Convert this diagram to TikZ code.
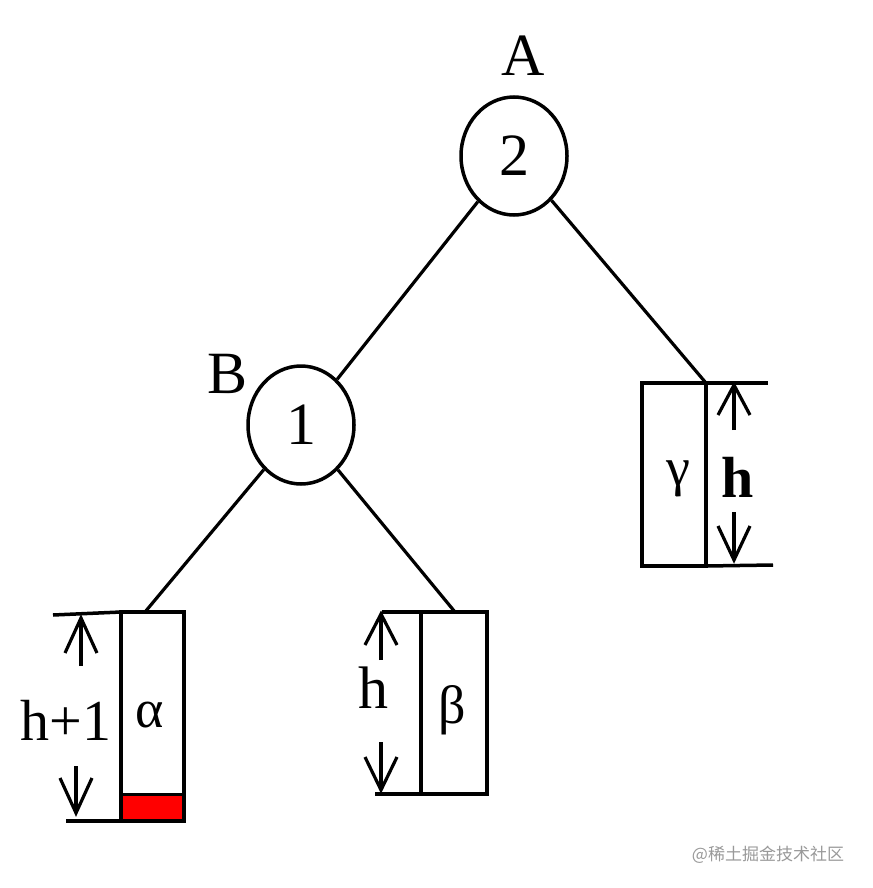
\documentclass[tikz,border=0pt]{standalone}
\usepackage{fontspec}
\setmainfont{Liberation Serif}
\newfontfamily\cjk{Noto Sans CJK SC}
\usetikzlibrary{shapes.geometric}
\tikzset{
  tnode/.style={draw, ellipse, line width=3.5pt, inner sep=0pt, minimum width=106pt, minimum height=118pt, font=\fontsize{60}{60}\selectfont},
  edge/.style={line width=3.2pt},
  subtree/.style={draw, line width=4pt, inner sep=0pt, outer sep=0pt},
  bigtxt/.style={anchor=base, inner sep=0pt, font=\fontsize{60}{60}\selectfont},
  greek/.style={anchor=base, inner sep=0pt, font=\fontsize{54}{54}\selectfont},
  arr/.style={line width=3.2pt},
  tick/.style={line width=3.5pt}
}
\begin{document}
\begin{tikzpicture}[x=1pt,y=-1pt]
\useasboundingbox[fill=white] (0,0) rectangle (872,888);
% tree nodes
\node[tnode] (A) at (514,156) {2};
\node[tnode] (B) at (301,425) {1};
\node[bigtxt] (lA) at (523,76) {A};
\node[bigtxt] (lB) at (228,393) {B};
% alpha subtree
\fill[red] (122,794) rectangle (184,821);
\node[subtree, minimum width=63pt, minimum height=209pt] (al) at (152.5,716.5) {};
\draw[line width=3pt] (122,794) -- (184,794);
\node[greek] (tal) at (150,727) {α};
% beta subtree
\node[subtree, minimum width=66pt, minimum height=182pt] (be) at (454,703) {};
\node[greek] (tbe) at (452,723) {β};
% gamma subtree
\node[subtree, minimum width=64pt, minimum height=183pt] (ga) at (674,474.5) {};
\node[greek] (tga) at (678,485) {γ};
% edges
\coordinate (alTop) at (145,612);
\coordinate (beTop) at (455,612);
\draw[edge] (A) -- (B);
\draw[edge] (A) -- (ga.north east);
\draw[edge] (B) -- (alTop);
\draw[edge] (B) -- (beTop);
% alpha height marker
\coordinate (a1) at (53,615);
\coordinate (a2) at (66,821);
\draw[tick] (a1) -- (al.north west);
\draw[tick] (a2) -- (al.south west);
\draw[arr] (81,666) -- (81,618);
\draw[arr] (65,653) -- (81,618) -- (97,653);
\draw[arr] (76,766) -- (76,813);
\draw[arr] (60,778) -- (76,813) -- (92,778);
\node[bigtxt, font=\fontsize{58}{58}\selectfont] (hal) at (66,740) {h+1};
% beta height marker
\coordinate (b1) at (382,612);
\coordinate (b2) at (375,794);
\draw[tick] (b1) -- (be.north west);
\draw[tick] (b2) -- (be.south west);
\draw[arr] (381,660) -- (381,614);
\draw[arr] (365,645) -- (381,614) -- (397,645);
\draw[arr] (381,742) -- (381,790);
\draw[arr] (365,757) -- (381,790) -- (397,757);
\node[bigtxt] (hbe) at (373,708) {h};
% gamma height marker
\coordinate (g1) at (768,383);
\coordinate (g2) at (773,565);
\draw[tick] (ga.north east) -- (g1);
\draw[tick] (ga.south east) -- (g2);
\draw[arr] (734,430) -- (734,385);
\draw[arr] (718,415) -- (734,385) -- (750,415);
\draw[arr] (734,512) -- (734,560);
\draw[arr] (718,526) -- (734,560) -- (750,526);
\node[bigtxt, font=\fontsize{58}{58}\selectfont\bfseries] (hga) at (738,497) {h};
% watermark
\node[anchor=base, inner sep=0pt, text=black!40, font=\cjk\fontsize{17}{17}\selectfont] (wm) at (768,860) {@稀土掘金技术社区};
\end{tikzpicture}
\end{document}
